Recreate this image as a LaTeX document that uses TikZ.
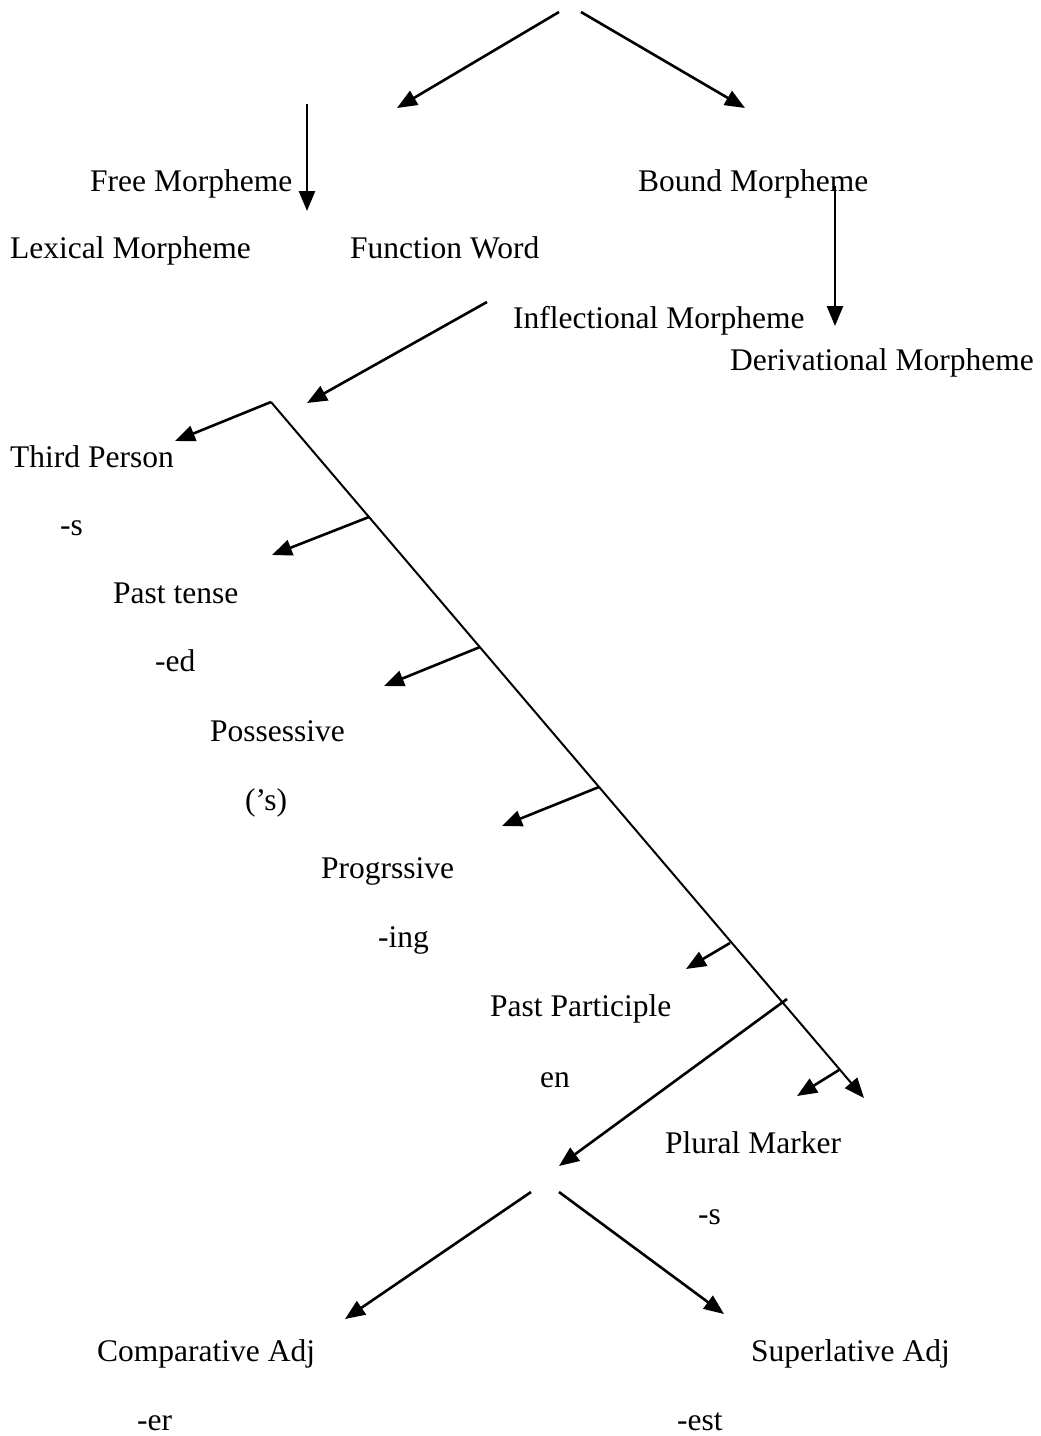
\documentclass[tikz,border=0pt]{standalone}
\usepackage{fontspec}
\setmainfont{Liberation Serif}
\usetikzlibrary{arrows.meta}
\begin{document}
\begin{tikzpicture}[x=1pt,y=-1pt,
  lbl/.style={anchor=base west,inner sep=0pt,font=\fontsize{31.5}{38}\selectfont},
  arr/.style={line width=2.6pt,-{Triangle[length=20pt,width=16pt]}},
  thin/.style={line width=2pt}]
\useasboundingbox (0,0) rectangle (1041,1436);
% labels
\node[lbl] (free) at (90,191) {Free Morpheme};
\node[lbl] (bound) at (638,191) {Bound Morpheme};
\node[lbl] (lex) at (10,258) {Lexical Morpheme};
\node[lbl] (func) at (350,258) {Function Word};
\node[lbl] (infl) at (513,328) {Inflectional Morpheme};
\node[lbl] (deriv) at (730,370) {Derivational Morpheme};
\node[lbl] (third) at (10,467) {Third Person};
\node[lbl] (thirds) at (60,535) {-s};
\node[lbl] (past) at (113,603) {Past tense};
\node[lbl] (pasted) at (155,671) {-ed};
\node[lbl] (poss) at (210,741) {Possessive};
\node[lbl] (posss) at (245,810) {(’s)};
\node[lbl] (prog) at (321,878) {Progrssive};
\node[lbl] (proging) at (378,947) {-ing};
\node[lbl] (pp) at (490,1016) {Past Participle};
\node[lbl] (ppen) at (540,1087) {en};
\node[lbl] (plur) at (665,1153) {Plural Marker};
\node[lbl] (plurs) at (698,1224) {-s};
\node[lbl] (comp) at (97,1361) {Comparative Adj};
\node[lbl] (super) at (751,1361) {Superlative Adj};
\node[lbl] (comper) at (137,1430) {-er};
\node[lbl] (supest) at (677,1430) {-est};
% coordinates
\coordinate (tl) at (559,12);
\coordinate (tr) at (581,12);
\coordinate (freetip) at (397,108);
\coordinate (boundtip) at (745,108);
\coordinate (fvs) at (307,104);
\coordinate (fve) at (307,211);
\coordinate (bvs) at (835,186);
\coordinate (bve) at (835,326);
\coordinate (infs) at (487,302);
\coordinate (infe) at (307,403);
\coordinate (corner) at (271,402);
\coordinate (thirdtip) at (175,441);
\coordinate (lineend) at (864,1098);
\coordinate (b1) at (369,517);
\coordinate (b1t) at (272,555);
\coordinate (b2) at (480,647);
\coordinate (b2t) at (384,686);
\coordinate (b3) at (599,787);
\coordinate (b3t) at (502,826);
\coordinate (b4) at (730,943);
\coordinate (b4t) at (686,969);
\coordinate (b5) at (787,999);
\coordinate (b5t) at (559,1166);
\coordinate (b6) at (839,1070);
\coordinate (b6t) at (797,1096);
\coordinate (ls) at (531,1192);
\coordinate (lt) at (345,1319);
\coordinate (rs) at (559,1192);
\coordinate (rt) at (724,1314);
% connectors
\draw[arr] (tl) -- (freetip);
\draw[arr] (tr) -- (boundtip);
\draw[arr] (fvs) -- (fve);
\draw[arr] (bvs) -- (bve);
\draw[arr] (infs) -- (infe);
\draw[arr] (corner) -- (thirdtip);
\draw[thin,-{Triangle[length=20pt,width=16pt]}] (corner) -- (lineend);
\draw[arr] (b1) -- (b1t);
\draw[arr] (b2) -- (b2t);
\draw[arr] (b3) -- (b3t);
\draw[arr] (b4) -- (b4t);
\draw[arr] (b5) -- (b5t);
\draw[arr] (b6) -- (b6t);
\draw[arr] (ls) -- (lt);
\draw[arr] (rs) -- (rt);
\end{tikzpicture}
\end{document}
